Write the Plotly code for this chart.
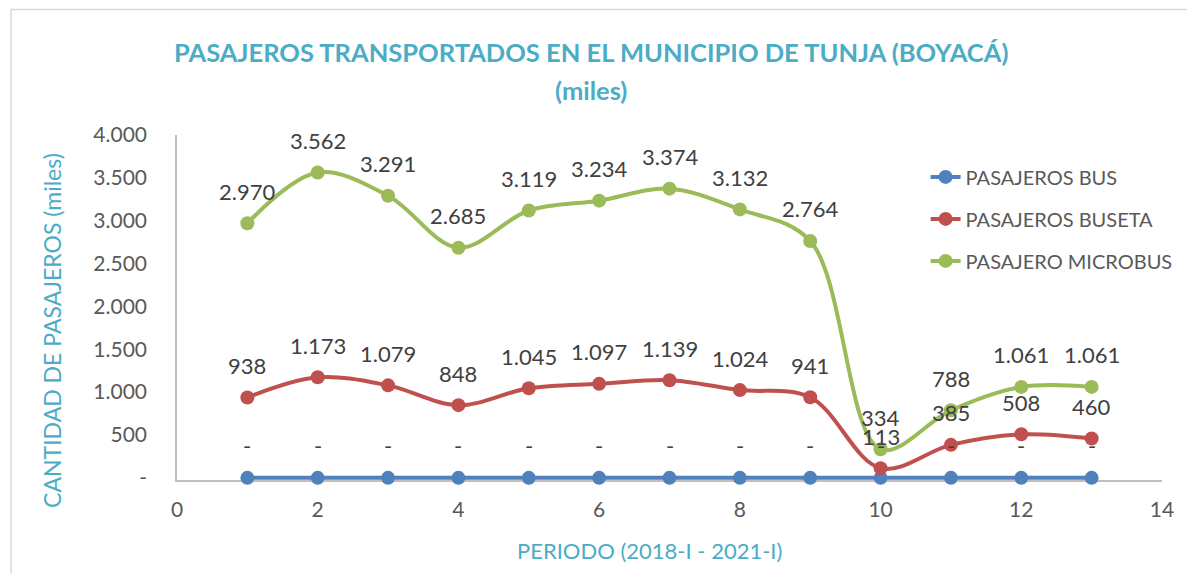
import plotly.graph_objects as go

periodo = list(range(1, 14))
bus = [0, 0, 0, 0, 0, 0, 0, 0, 0, 0, 0, 0, 0]
buseta = [938, 1173, 1079, 848, 1045, 1097, 1139, 1024, 941, 113, 385, 508, 460]
microbus = [2970, 3562, 3291, 2685, 3119, 3234, 3374, 3132, 2764, 334, 788, 1061, 1061]

nombres = ["PASAJEROS BUS", "PASAJEROS BUSETA", "PASAJERO MICROBUS"]
colores = ["#4F81BD", "#C0504D", "#9BBB59"]
y_ticks = [0, 500, 1000, 1500, 2000, 2500, 3000, 3500, 4000]

FONT = "Lato"
AQUA = "#4BACC6"
GRIS = "#595959"


def fmt(v):
    # miles con punto, cero como guion (estilo Excel contable)
    return "-" if v == 0 else f"{v:,}".replace(",", ".")


fig = go.Figure()
for i, (serie, nom, col) in enumerate(zip([bus, buseta, microbus], nombres, colores)):
    fig.add_scatter(x=periodo, y=serie, name=nom, mode="lines+markers",
                    line=dict(color=col, width=4, shape="spline", smoothing=1),
                    marker=dict(color=col, size=14),
                    legendgroup=str(i), cliponaxis=False)

# etiquetas de datos sobre cada punto
anns = []
for serie in [bus, buseta, microbus]:
    for x, v in zip(periodo, serie):
        anns.append(dict(x=x, y=v, text=fmt(v), showarrow=False, yshift=32,
                         font=dict(family=FONT, size=22, color="#404040")))

txt = dict(xref="paper", yref="paper", showarrow=False, xanchor="center", yanchor="middle")
anns += [
    dict(txt, x=0.4203, y=1.2406,
         text="<b>PASAJEROS TRANSPORTADOS EN EL MUNICIPIO DE TUNJA (BOYACÁ)</b>",
         font=dict(family=FONT, size=25.5, color=AQUA)),
    dict(txt, x=0.4203, y=1.1304,
         text="<b>(miles)</b>", font=dict(family=FONT, size=25.5, color=AQUA)),
    dict(txt, x=-0.127, y=0.4348, textangle=-90,
         text="CANTIDAD DE PASAJEROS (miles)",
         font=dict(family=FONT, size=23, color=AQUA)),
    dict(txt, x=0.480, y=-0.2029,
         text="PERIODO (2018-I - 2021-I)",
         font=dict(family=FONT, size=22, color=AQUA)),
]

# la página pone la figura a 8 px del borde: se descuenta en tamaño y márgenes
fig.update_layout(
    width=1187, height=565,
    margin=dict(l=169, r=33, t=127, b=93),
    plot_bgcolor="white", paper_bgcolor="white",
    font=dict(family=FONT, size=20, color=GRIS),
    annotations=anns,
    legend=dict(x=0.76, y=0.935, xanchor="left", yanchor="top",
                font=dict(family=FONT, size=20, color=GRIS),
                tracegroupgap=13, bgcolor="rgba(0,0,0,0)"),
    shapes=[dict(type="rect", xref="paper", yref="paper",
                 x0=-0.1685, x1=1.05, y0=-0.3, y1=1.3638,
                 line=dict(color="#D9D9D9", width=1.5))],
)
fig.update_xaxes(range=[0, 14], dtick=2, showgrid=False, zeroline=False,
                 showline=True, linecolor="#BFBFBF", linewidth=1.5,
                 ticks="", ticklabelstandoff=10, layer="below traces",
                 tickfont=dict(family=FONT, size=21, color=GRIS))
fig.update_yaxes(range=[-25, 4000], tickvals=y_ticks, ticktext=[fmt(v) for v in y_ticks],
                 showgrid=False, zeroline=False,
                 showline=True, linecolor="#BFBFBF", linewidth=1.5,
                 ticks="", ticklabelstandoff=24, layer="below traces",
                 tickfont=dict(family=FONT, size=21, color=GRIS))

fig.write_html("out.html")
